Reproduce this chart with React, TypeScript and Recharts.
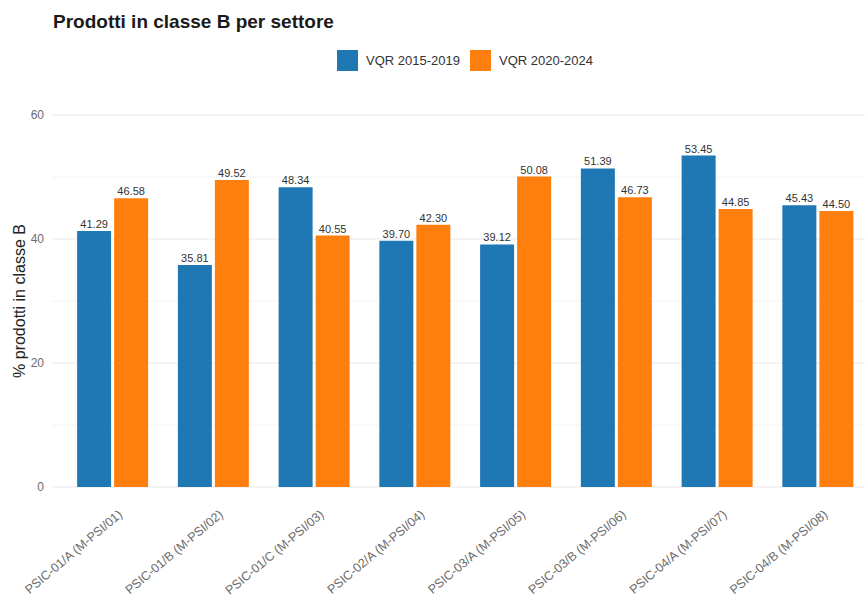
import React from "react";
import { BarChart, Bar, XAxis, YAxis, CartesianGrid, LabelList, Legend } from "recharts";

const categories = [
  "PSIC-01/A (M-PSI/01)",
  "PSIC-01/B (M-PSI/02)",
  "PSIC-01/C (M-PSI/03)",
  "PSIC-02/A (M-PSI/04)",
  "PSIC-03/A (M-PSI/05)",
  "PSIC-03/B (M-PSI/06)",
  "PSIC-04/A (M-PSI/07)",
  "PSIC-04/B (M-PSI/08)",
];
const vqr2015 = [41.29, 35.81, 48.34, 39.7, 39.12, 51.39, 53.45, 45.43];
const vqr2020 = [46.58, 49.52, 40.55, 42.3, 50.08, 46.73, 44.85, 44.5];
const seriesNames = ["VQR 2015-2019", "VQR 2020-2024"];
const seriesColors = ["#1f77b4", "#ff7f0e"];
const yTicks = [0, 20, 40, 60];
const minorTicks = [10, 30, 50];

const data = categories.map((c, i) => ({ name: c, a: vqr2015[i], b: vqr2020[i] }));

const FONT = "Liberation Sans, Arial, sans-serif";

const XTick = (props: any) => {
  const { x, y, payload } = props;
  const ax = x + 5;
  const ay = y + 14;
  return (
    <text
      x={ax}
      y={ay}
      dy="0.71em"
      textAnchor="end"
      transform={`rotate(-40, ${ax}, ${ay})`}
      fontSize={12.5}
      fill="#6b6b6b"
      fontFamily={FONT}
    >
      {payload.value}
    </text>
  );
};

const LegendContent = () => (
  <div style={{ display: "flex", justifyContent: "center", alignItems: "center", fontFamily: FONT, fontSize: 13, color: "#333" }}>
    {seriesNames.map((n, i) => (
      <div key={n} style={{ display: "flex", alignItems: "center", marginRight: i === 0 ? 10 : 0 }}>
        <div style={{ width: 21, height: 21, background: seriesColors[i], marginRight: 8 }} />
        <span>{n}</span>
      </div>
    ))}
  </div>
);

const YLabel = (props: any) => {
  const vb = props.viewBox;
  const cx = 19;
  const cy = vb.y + vb.height / 2;
  return (
    <text x={cx} y={cy} transform={`rotate(-90, ${cx}, ${cy})`} textAnchor="middle" dominantBaseline="central" fontSize={16} fill="#222" fontFamily={FONT}>
      % prodotti in classe B
    </text>
  );
};

export default function App() {
  return (
    <div style={{ position: "absolute", left: 0, top: 0, width: 865, height: 601, overflow: "hidden", background: "#fff" }}>
      <div style={{ position: "absolute", left: 53, top: 11, fontFamily: FONT, fontWeight: 700, fontSize: 19, color: "#1a1a1a", whiteSpace: "nowrap" }}>
        Prodotti in classe B per settore
      </div>
      <BarChart
        width={880}
        height={601}
        data={data}
        margin={{ top: 115, right: 2, bottom: 0, left: 0 }}
        barCategoryGap="15%"
        barGap={3}
      >
        <CartesianGrid horizontal vertical={false} stroke="#f3f3f3" horizontalValues={minorTicks} />
        <CartesianGrid horizontal vertical={false} stroke="#e9e9e9" horizontalValues={yTicks} />
        <XAxis
          dataKey="name"
          interval={0}
          axisLine={false}
          tickLine={false}
          height={114}
          padding={{ left: 10, right: 10 }}
          tick={<XTick />}
        />
        <YAxis
          domain={[0, 60]}
          ticks={yTicks}
          width={52}
          axisLine={false}
          tickLine={false}
          tickSize={0}
          tickMargin={8}
          tick={{ fontSize: 12, fill: "#6b6b6b", fontFamily: FONT }}
          label={<YLabel />}
        />
        <Legend
          layout="horizontal"
          verticalAlign="middle"
          align="center"
          wrapperStyle={{ top: 50, left: 0, width: 930 }}
          content={<LegendContent />}
        />
        <Bar dataKey="a" name={seriesNames[0]} fill={seriesColors[0]} isAnimationActive={false}>
          <LabelList dataKey="a" position="top" offset={3} formatter={(v: any) => Number(v).toFixed(2)} style={{ fontSize: 11, fill: "#333", fontFamily: FONT }} />
        </Bar>
        <Bar dataKey="b" name={seriesNames[1]} fill={seriesColors[1]} isAnimationActive={false}>
          <LabelList dataKey="b" position="top" offset={3} formatter={(v: any) => Number(v).toFixed(2)} style={{ fontSize: 11, fill: "#333", fontFamily: FONT }} />
        </Bar>
      </BarChart>
    </div>
  );
}
